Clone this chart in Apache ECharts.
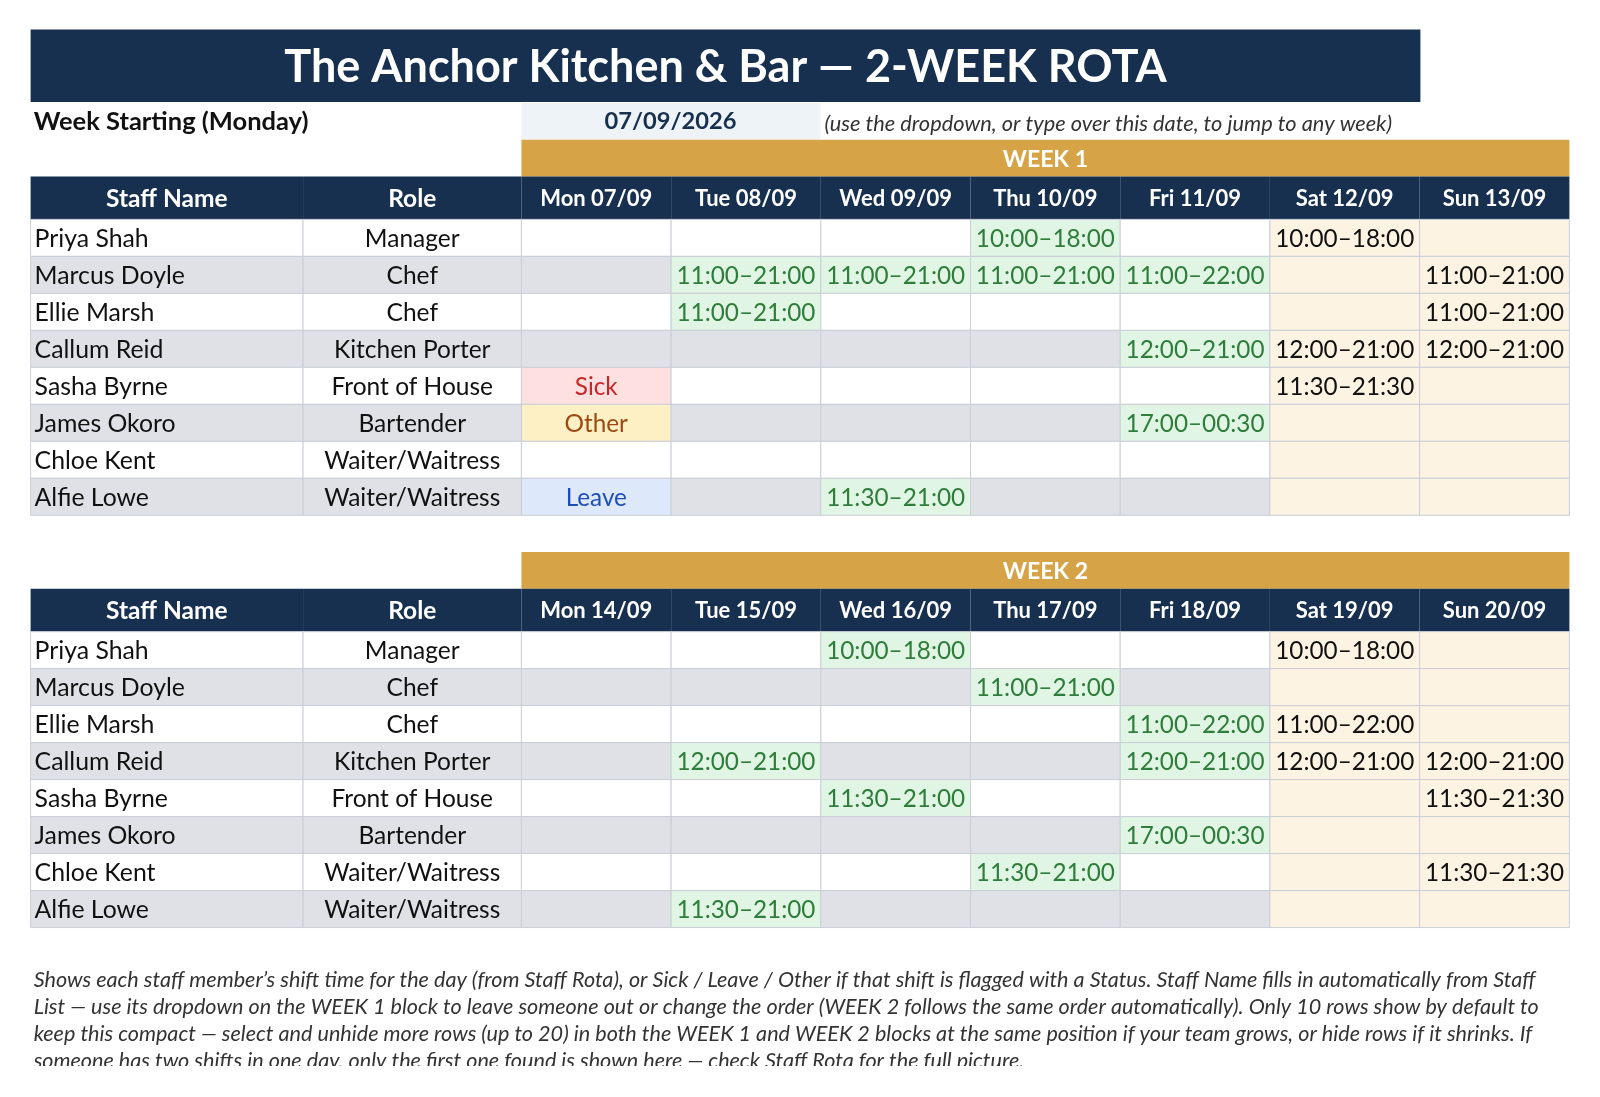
<!DOCTYPE html>
<html><head><meta charset="utf-8">
<script src="https://cdn.jsdelivr.net/npm/echarts@6/dist/echarts.min.js"></script>
<style>html,body{margin:0;background:#fff}#c{width:1600px;height:1097px}</style>
</head><body><div id="c"></div>
<script>
const staff = ["Priya Shah","Marcus Doyle","Ellie Marsh","Callum Reid","Sasha Byrne","James Okoro","Chloe Kent","Alfie Lowe"];
const roles = ["Manager","Chef","Chef","Kitchen Porter","Front of House","Bartender","Waiter/Waitress","Waiter/Waitress"];
const week1Days = ["Mon 07/09","Tue 08/09","Wed 09/09","Thu 10/09","Fri 11/09","Sat 12/09","Sun 13/09"];
const week2Days = ["Mon 14/09","Tue 15/09","Wed 16/09","Thu 17/09","Fri 18/09","Sat 19/09","Sun 20/09"];
const week1 = [
 ["","","","10:00–18:00","","10:00–18:00",""],
 ["","11:00–21:00","11:00–21:00","11:00–21:00","11:00–22:00","","11:00–21:00"],
 ["","11:00–21:00","","","","","11:00–21:00"],
 ["","","","","12:00–21:00","12:00–21:00","12:00–21:00"],
 ["Sick","","","","","11:30–21:30",""],
 ["Other","","","","17:00–00:30","",""],
 ["","","","","","",""],
 ["Leave","","11:30–21:00","","","",""]
];
const week2 = [
 ["","","10:00–18:00","","","10:00–18:00",""],
 ["","","","11:00–21:00","","",""],
 ["","","","","11:00–22:00","11:00–22:00",""],
 ["","12:00–21:00","","","12:00–21:00","12:00–21:00","12:00–21:00"],
 ["","","11:30–21:00","","","","11:30–21:30"],
 ["","","","","17:00–00:30","",""],
 ["","","","11:30–21:00","","","11:30–21:30"],
 ["","11:30–21:00","","","","",""]
];
const weekStart = "07/09/2026";

// layout
const S = 1/0.98;
const colW = [267,214,146.7,146.7,146.7,146.7,146.7,146.7,146.8].map(v=>v*S);
const colE = [0]; colW.forEach(w=>colE.push(colE[colE.length-1]+w));
const rowE = [0,36*S,78*S]; for(let i=1;i<=8;i++) rowE.push((78+i*36.25)*S);
const TOTAL_W = colE[colE.length-1], TOTAL_H = rowE[rowE.length-1];
const NAVY='#17304f', GOLD='#d6a447', GREY='#dfe1e6', BEIGE='#fdf3e2', BORDER='#c9ced8';
const FONT='Lato';

function buildData(days, grid, label){
  const d=[];
  d.push({value:[2,0,label,'gold',9]});
  d.push({value:[0,1,'Staff Name','head',0]});
  d.push({value:[1,1,'Role','head',1]});
  days.forEach((t,i)=>d.push({value:[i+2,1,t,'head',i+2]}));
  staff.forEach((s,r)=>{
    d.push({value:[0,r+2,s,'name',r]});
    d.push({value:[1,r+2,roles[r],'role',r]});
    grid[r].forEach((v,i)=>d.push({value:[i+2,r+2,v,'day',r]}));
  });
  return d;
}
function render(params, api){
  const c=api.value(0), r=api.value(1), txt=api.value(2), kind=api.value(3);
  let c1 = kind==='gold' ? 9 : c+1;
  const p0=api.coord([colE[c],rowE[r]]), p1=api.coord([colE[c1],rowE[r+1]]);
  const x=p0[0], y=p0[1], w=p1[0]-p0[0], h=p1[1]-p0[1];
  let fill='#fff', color='#111', weight='normal', align='center', size=24.3, stroke=BORDER;
  const rowIdx = r-2, even = rowIdx%2===1;
  if(kind==='gold'){fill=GOLD;color='#fff';weight='bold';size=23;stroke=null;}
  else if(kind==='head'){fill=NAVY;color='#fff';weight='bold';size=22;stroke=null;if(c<2)size=24.5;}
  else {
    const weekend = c>=7;
    if(weekend) fill=BEIGE; else if(even) fill=GREY;
    if(kind==='name') {align='left';size=24.8;}
    if(kind==='role') size=24.5;
    if(kind==='day' && txt){
      if(txt==='Sick'){fill='#fde0df';color='#c62828';}
      else if(txt==='Other'){fill='#fdf0c4';color='#9c4a12';}
      else if(txt==='Leave'){fill='#dde9fb';color='#1f4fb5';}
      else if(!weekend){fill='#e1f5e4';color='#2e7d3a';}
    }
  }
  const tx = align==='left' ? x+4 : x+w/2;
  return {type:'group',children:[
    {type:'rect',shape:{x,y,width:w,height:h},style:{fill,stroke,lineWidth:1}},
    {type:'text',style:{text:txt,x:tx,y:y+h/2+1,align,verticalAlign:'middle',fill:color,font:`${weight} ${size}px ${FONT}`}}
  ]};
}
function axes(idx){
  return {
    x:{type:'value',gridIndex:idx,min:0,max:TOTAL_W,show:false},
    y:{type:'value',gridIndex:idx,min:0,max:TOTAL_H,inverse:true,show:false}
  };
}
const a0=axes(0), a1=axes(1);
const chart=echarts.init(document.getElementById('c'));
chart.setOption({
  backgroundColor:'#fff',
  animation:false,
  grid:[{left:30*S,top:137*S,width:TOTAL_W,height:TOTAL_H},{left:30*S,top:541*S,width:TOTAL_W,height:TOTAL_H}],
  xAxis:[a0.x,a1.x], yAxis:[a0.y,a1.y],
  graphic:[
    {type:'rect',left:30*S,top:29*S,shape:{width:1362*S,height:71*S},style:{fill:NAVY}},
    {type:'text',x:711*S,y:66*S,style:{text:'The Anchor Kitchen & Bar — 2-WEEK ROTA',align:'center',verticalAlign:'middle',fill:'#fff',font:`bold 45px ${FONT}`}},
    {type:'text',x:33*S,y:119*S,style:{text:'Week Starting (Monday)',verticalAlign:'middle',fill:'#111',font:`bold 25.5px ${FONT}`}},
    {type:'rect',left:511*S,top:101*S,shape:{width:293*S,height:36*S},style:{fill:'#eef3f8'}},
    {type:'text',x:657*S,y:119*S,style:{text:weekStart,align:'center',verticalAlign:'middle',fill:NAVY,font:`bold 23.7px ${FONT}`}},
    {type:'text',x:808*S,y:121*S,style:{text:'(use the dropdown, or type over this date, to jump to any week)',verticalAlign:'middle',fill:'#333',font:`italic 21.8px ${FONT}`}},
    {type:'text',x:33*S,y:947*S,style:{text:'Shows each staff member’s shift time for the day (from Staff Rota), or Sick / Leave / Other if that shift is flagged with a Status. Staff Name fills in automatically from Staff\nList — use its dropdown on the WEEK 1 block to leave someone out or change the order (WEEK 2 follows the same order automatically). Only 10 rows show by default to\nkeep this compact — select and unhide more rows (up to 20) in both the WEEK 1 and WEEK 2 blocks at the same position if your team grows, or hide rows if it shrinks. If\nsomeone has two shifts in one day, only the first one found is shown here — check Staff Rota for the full picture.',verticalAlign:'top',lineHeight:27,fill:'#333',font:`italic 21.6px ${FONT}`}},
    {type:'rect',left:0,top:1066,shape:{width:1600,height:31},style:{fill:'#fff'},z:100}
  ],
  series:[
    {type:'custom',xAxisIndex:0,yAxisIndex:0,coordinateSystem:'cartesian2d',renderItem:render,data:buildData(week1Days,week1,'WEEK 1'),encode:{x:0,y:1}},
    {type:'custom',xAxisIndex:1,yAxisIndex:1,coordinateSystem:'cartesian2d',renderItem:render,data:buildData(week2Days,week2,'WEEK 2'),encode:{x:0,y:1}}
  ]
});
</script></body></html>
